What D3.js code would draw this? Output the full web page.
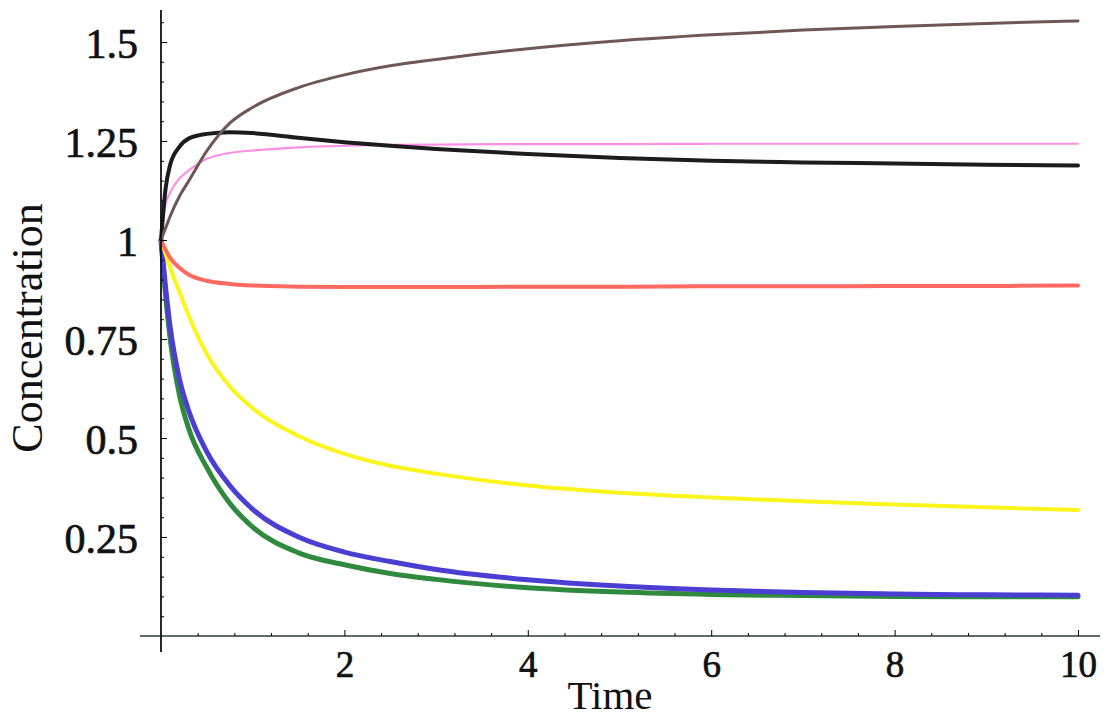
<!DOCTYPE html>
<html>
<head>
<meta charset="utf-8">
<script src="https://cdn.jsdelivr.net/npm/d3@7"></script>
<style>
  body { margin: 0; background: #fff; }
  text { font-family: 'Liberation Serif', 'Times New Roman', serif; fill: #111; }
</style>
</head>
<body>
<div id="chart"></div>
<script>
// time points
const time = [0, 0.05, 0.1, 0.2, 0.3, 0.5, 0.75, 1, 1.5, 2, 2.5, 3, 4, 5, 6, 7, 8, 9, 10]

const brownConc = [1, 1.03, 1.06, 1.11, 1.148, 1.225, 1.295, 1.335, 1.385, 1.417, 1.44, 1.456, 1.483, 1.503, 1.518, 1.53, 1.539, 1.547, 1.553]
const blackConc = [1, 1.13, 1.19, 1.235, 1.256, 1.268, 1.272, 1.27, 1.258, 1.247, 1.238, 1.23, 1.217, 1.207, 1.2, 1.196, 1.193, 1.19, 1.188]
const pinkConc = [1, 1.09, 1.12, 1.155, 1.175, 1.205, 1.22, 1.226, 1.234, 1.238, 1.24, 1.241, 1.242, 1.242, 1.243, 1.243, 1.243, 1.243, 1.243]
const redConc = [1, 0.975, 0.955, 0.93, 0.913, 0.897, 0.889, 0.885, 0.882, 0.881, 0.881, 0.881, 0.882, 0.882, 0.883, 0.883, 0.884, 0.884, 0.885]
const yellowConc = [1, 0.965, 0.93, 0.87, 0.81, 0.712, 0.63, 0.575, 0.505, 0.46, 0.43, 0.41, 0.38, 0.362, 0.35, 0.34, 0.332, 0.325, 0.318]
const blueConc = [1, 0.88, 0.78, 0.65, 0.57, 0.465, 0.38, 0.32, 0.25, 0.212, 0.188, 0.168, 0.142, 0.126, 0.116, 0.11, 0.106, 0.104, 0.103]
const greenConc = [1, 0.86, 0.75, 0.61, 0.525, 0.425, 0.335, 0.275, 0.21, 0.18, 0.158, 0.143, 0.122, 0.111, 0.105, 0.102, 0.1, 0.099, 0.099]

const xTicks = [2, 4, 6, 8, 10]
const xTickLabels = ['2', '4', '6', '8', '10']
const yTicks = [0.25, 0.5, 0.75, 1, 1.25, 1.5]
const yTickLabels = ['0.25', '0.5', '0.75', '1', '1.25', '1.5']

const width = 1114
const height = 719

const svg = d3.select('#chart')
  .append('svg')
  .attr('width', width)
  .attr('height', height)

const x = d3.scaleLinear().domain([0, 10]).range([161, 1078])
const y = d3.scaleLinear().domain([0, 1.5]).range([636, 42])

// series drawn bottom to top
const series = [
  { name: 'green', values: greenConc, color: '#2f8a3e', width: 5 },
  { name: 'blue', values: blueConc, color: '#4a3fd2', width: 5 },
  { name: 'yellow', values: yellowConc, color: '#fbf51c', width: 4 },
  { name: 'red', values: redConc, color: '#ff6a60', width: 4 },
  { name: 'pink', values: pinkConc, color: '#ff8fe4', width: 2.2 },
  { name: 'black', values: blackConc, color: '#1c1c1c', width: 4 },
  { name: 'brown', values: brownConc, color: '#6f5853', width: 3 }
]

const line = d3.line()
  .x(d => x(d[0]))
  .y(d => y(d[1]))
  .curve(d3.curveMonotoneX)

svg.append('g')
  .selectAll('path')
  .data(series)
  .enter()
  .append('path')
  .attr('d', s => line(time.map((t, i) => [t, s.values[i]])))
  .attr('fill', 'none')
  .attr('stroke', s => s.color)
  .attr('stroke-width', s => s.width)
  .attr('stroke-linecap', 'round')

// axis lines (Mathematica style, crossing at origin)
svg.append('line')
  .attr('x1', 140).attr('x2', 1100)
  .attr('y1', y(0)).attr('y2', y(0))
  .attr('stroke', '#2b3b33')
  .attr('stroke-width', 1.6)

svg.append('line')
  .attr('x1', x(0)).attr('x2', x(0))
  .attr('y1', 10).attr('y2', 652)
  .attr('stroke', '#111')
  .attr('stroke-width', 1.8)

// x axis ticks
const xMinor = d3.range(0.4, 10.01, 0.4).filter(v => Math.abs(v / 2 - Math.round(v / 2)) > 0.01)

const xAxisMinor = d3.axisBottom(x).tickValues(xMinor).tickSize(-3).tickSizeOuter(0).tickFormat('')
const xAxisMajor = d3.axisBottom(x)
  .tickValues(xTicks)
  .tickSize(-6)
  .tickSizeOuter(0)
  .tickPadding(15)
  .tickFormat((d, i) => xTickLabels[i])

svg.append('g').attr('transform', `translate(0,${y(0)})`).call(xAxisMinor)
  .call(g => g.select('.domain').remove())
svg.append('g').attr('transform', `translate(0,${y(0)})`).call(xAxisMajor)
  .call(g => g.select('.domain').remove())
  .call(g => g.selectAll('text')
    .attr('font-size', 37)
    .attr('font-family', null)
    .attr('fill', '#111')
    .attr('stroke', '#111')
    .attr('stroke-width', 0.7))

// y axis ticks
const yMinor = d3.range(0.05, 1.56, 0.05).filter(v => Math.abs(v / 0.25 - Math.round(v / 0.25)) > 0.01)

const yAxisMinor = d3.axisLeft(y).tickValues(yMinor).tickSize(-3).tickSizeOuter(0).tickFormat('')
const yAxisMajor = d3.axisLeft(y)
  .tickValues(yTicks)
  .tickSize(-6)
  .tickSizeOuter(0)
  .tickPadding(23)
  .tickFormat((d, i) => yTickLabels[i])

svg.append('g').attr('transform', `translate(${x(0)},0)`).call(yAxisMinor)
  .call(g => g.select('.domain').remove())
svg.append('g').attr('transform', `translate(${x(0)},0)`).call(yAxisMajor)
  .call(g => g.select('.domain').remove())
  .call(g => g.selectAll('text')
    .attr('font-size', 42)
    .attr('font-family', null)
    .attr('fill', '#111')
    .attr('stroke', '#111')
    .attr('stroke-width', 0.7)
    .attr('dy', '0.36em'))

// axis titles
svg.append('text')
  .attr('x', 610)
  .attr('y', 709)
  .attr('text-anchor', 'middle')
  .attr('font-size', 41)
  .text('Time')

svg.append('text')
  .attr('transform', 'translate(42,328) rotate(-90)')
  .attr('text-anchor', 'middle')
  .attr('font-size', 44)
  .text('Concentration')
</script>
</body>
</html>
